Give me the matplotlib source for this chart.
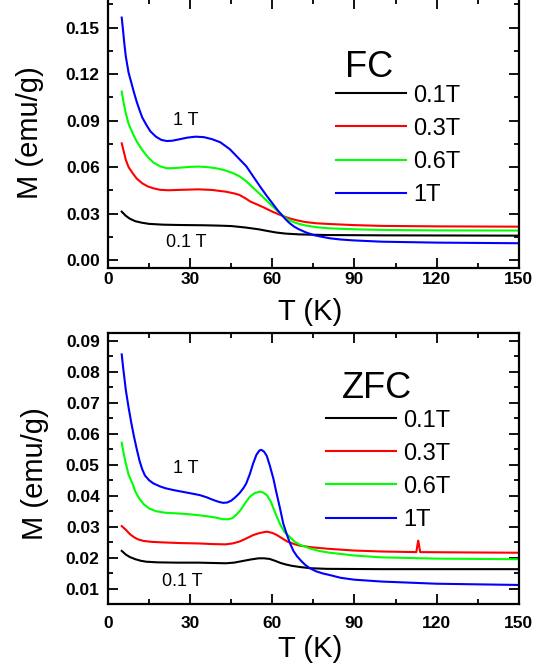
import numpy as np
import matplotlib
matplotlib.use("Agg")
import matplotlib.pyplot as plt
from matplotlib.ticker import MultipleLocator, FormatStrFormatter

plt.rcParams['font.family'] = ['Liberation Sans', 'DejaVu Sans']

fields = ['0.1T', '0.3T', '0.6T', '1T']
colors = ['black', '#ff0000', '#00ff00', '#0000ff']

# FC curves (T in K, M in emu/g)
fc_T_01 = [5, 6.5, 8, 10, 12.5, 15, 20, 25, 30, 35, 40, 45, 50, 55, 58, 61.5, 65, 70, 80, 100, 150]
fc_M_01 = [0.0312, 0.0285, 0.0266, 0.0250, 0.0240, 0.0233, 0.0228, 0.0226, 0.0225, 0.0224, 0.0222, 0.0219, 0.0210, 0.0198, 0.0188, 0.0177, 0.0170, 0.0165, 0.0161, 0.0159, 0.0157]

fc_T_03 = [5, 5.75, 6.5, 7.5, 9, 10.5, 12.5, 14.5, 16.5, 19, 22, 27, 33, 38, 43, 46, 48, 50, 52, 54.5, 57, 60, 63, 66, 69, 72, 76, 81, 90, 100, 120, 150]
fc_M_03 = [0.0753, 0.0700, 0.0646, 0.0600, 0.0560, 0.0525, 0.0495, 0.0475, 0.0463, 0.0453, 0.0450, 0.0453, 0.0456, 0.0452, 0.0441, 0.0430, 0.0420, 0.0400, 0.0377, 0.0358, 0.0338, 0.0312, 0.0290, 0.0270, 0.0256, 0.0245, 0.0237, 0.0232, 0.0225, 0.0220, 0.0217, 0.0215]

fc_T_06 = [5, 5.75, 6.5, 7.5, 9, 10.5, 12.5, 14.5, 16.5, 19, 21.5, 24, 27, 30, 33, 36, 39.5, 42.5, 45.5, 48, 50.5, 53, 55.5, 58, 60.5, 63, 65, 67, 69, 72, 76, 81, 90, 100, 120, 150]
fc_M_06 = [0.1087, 0.1010, 0.0947, 0.0880, 0.0818, 0.0765, 0.0710, 0.0665, 0.0630, 0.0605, 0.0592, 0.0593, 0.0597, 0.0601, 0.0603, 0.0600, 0.0592, 0.0580, 0.0562, 0.0540, 0.0508, 0.0466, 0.0425, 0.0382, 0.0340, 0.0298, 0.0270, 0.0250, 0.0237, 0.0223, 0.0212, 0.0204, 0.0198, 0.0194, 0.0191, 0.0190]

fc_T_1 = [5, 5.5, 6, 6.5, 7.5, 8.5, 9.5, 10.5, 11.5, 12.5, 14, 15.5, 17.5, 19.5, 21.5, 23.5, 26, 29, 32, 35, 38, 41, 44.5, 47.5, 50.5, 53, 55.5, 58, 60.5, 62, 63.5, 65, 66.5, 68, 69.5, 72, 75, 78, 81, 85, 90, 100, 120, 150]
fc_M_1 = [0.1565, 0.1480, 0.1390, 0.1313, 0.1210, 0.1145, 0.1080, 0.1020, 0.0968, 0.0920, 0.0872, 0.0830, 0.0796, 0.0775, 0.0768, 0.0770, 0.0779, 0.0790, 0.0796, 0.0793, 0.0780, 0.0760, 0.0715, 0.0660, 0.0605, 0.0540, 0.0475, 0.0413, 0.0355, 0.0320, 0.0290, 0.0260, 0.0235, 0.0215, 0.0200, 0.0180, 0.0161, 0.0150, 0.0140, 0.0132, 0.0126, 0.0118, 0.0112, 0.0108]

# ZFC curves
zfc_T_01 = [5, 6.5, 8, 10, 12, 14, 18, 25, 33, 38, 43, 46, 49, 52, 55, 57, 59, 61, 63, 65, 67, 70, 74, 80, 100, 150]
zfc_M_01 = [0.0222, 0.0210, 0.0202, 0.0195, 0.0190, 0.0187, 0.0185, 0.0184, 0.0184, 0.0183, 0.0182, 0.0184, 0.0189, 0.0194, 0.0198, 0.0198, 0.0196, 0.0190, 0.0183, 0.0178, 0.0174, 0.0170, 0.0166, 0.0164, 0.0163, 0.0163]

zfc_T_03 = [5, 6.5, 8, 9.5, 11, 13, 16, 21, 27, 33, 38, 43, 45.5, 48, 50.5, 53, 55.5, 58, 60, 61.5, 63.5, 65.5, 68, 70, 74, 80, 90, 100, 112.6, 113, 113.3, 113.6, 114, 130, 150]
zfc_M_03 = [0.0302, 0.0290, 0.0276, 0.0266, 0.0259, 0.0254, 0.0251, 0.0249, 0.0247, 0.0246, 0.0244, 0.0243, 0.0246, 0.0252, 0.0262, 0.0273, 0.0280, 0.0284, 0.0280, 0.0274, 0.0263, 0.0252, 0.0244, 0.0239, 0.0234, 0.0229, 0.0223, 0.0220, 0.0218, 0.0240, 0.0255, 0.0240, 0.0218, 0.0217, 0.0216]

zfc_T_06 = [5, 5.75, 6.5, 7.5, 8.9, 10, 11.4, 13, 15, 17.5, 21, 25, 28.5, 32, 36, 39, 42, 44, 45.5, 47, 48.5, 50, 51.8, 53.5, 55.3, 56.5, 58, 59.5, 61.5, 63, 64.5, 66.4, 68, 70, 73.7, 77, 81, 90, 100, 120, 150]
zfc_M_06 = [0.0571, 0.0535, 0.0504, 0.0468, 0.0440, 0.0413, 0.0391, 0.0373, 0.0359, 0.0350, 0.0345, 0.0343, 0.0341, 0.0338, 0.0334, 0.0330, 0.0324, 0.0324, 0.0328, 0.0340, 0.0355, 0.0375, 0.0397, 0.0408, 0.0413, 0.0411, 0.0402, 0.0380, 0.0335, 0.0305, 0.0282, 0.0267, 0.0253, 0.0242, 0.0230, 0.0222, 0.0216, 0.0207, 0.0201, 0.0197, 0.0195]

zfc_T_1 = [5, 5.5, 6, 6.5, 7.5, 8.5, 9.5, 10.5, 11.5, 12.5, 13.5, 15, 16.5, 19, 21, 24, 27, 30, 33.5, 36, 38.5, 40.5, 42, 43.5, 45, 46.5, 48, 49.5, 50.5, 51.8, 53, 54.2, 55.3, 56, 57, 58, 59, 60.4, 61.5, 62.8, 64, 65, 66.3, 67.7, 69, 70.5, 72, 73.7, 76, 78.5, 81, 85, 90, 100, 120, 150]
zfc_M_1 = [0.0856, 0.0815, 0.0778, 0.0741, 0.0685, 0.0635, 0.0590, 0.0550, 0.0513, 0.0485, 0.0465, 0.0450, 0.0440, 0.0430, 0.0424, 0.0418, 0.0413, 0.0408, 0.0402, 0.0395, 0.0386, 0.0380, 0.0377, 0.0378, 0.0384, 0.0395, 0.0408, 0.0425, 0.0440, 0.0470, 0.0504, 0.0532, 0.0546, 0.0548, 0.0542, 0.0528, 0.0500, 0.0455, 0.0410, 0.0360, 0.0310, 0.0283, 0.0250, 0.0222, 0.0205, 0.0190, 0.0177, 0.0166, 0.0156, 0.0149, 0.0144, 0.0135, 0.0129, 0.0123, 0.0116, 0.0112]

fc = [(fc_T_01, fc_M_01), (fc_T_03, fc_M_03), (fc_T_06, fc_M_06), (fc_T_1, fc_M_1)]
zfc = [(zfc_T_01, zfc_M_01), (zfc_T_03, zfc_M_03), (zfc_T_06, zfc_M_06), (zfc_T_1, zfc_M_1)]

fig = plt.figure(figsize=(5.52, 6.72), dpi=100)
ax1 = fig.add_axes([0.1957, 0.6007, 0.744, 0.4008])
ax2 = fig.add_axes([0.1957, 0.1012, 0.744, 0.4028])


def style(ax, ymajor, xpad):
    ax.set_xlim(0, 150)
    ax.xaxis.set_major_locator(MultipleLocator(30))
    ax.xaxis.set_minor_locator(MultipleLocator(15))
    ax.yaxis.set_major_locator(MultipleLocator(ymajor))
    ax.yaxis.set_minor_locator(MultipleLocator(ymajor / 2))
    ax.yaxis.set_major_formatter(FormatStrFormatter('%.2f'))
    ax.tick_params(which='both', direction='in', top=True, right=True, width=1.3)
    ax.tick_params(which='major', length=7)
    ax.tick_params(which='minor', length=3.6)
    ax.tick_params(axis='y', which='major', pad=6)
    ax.tick_params(axis='x', which='major', pad=xpad)
    for lab in ax.get_xticklabels() + ax.get_yticklabels():
        lab.set_fontweight('bold')
        lab.set_fontsize(12.5)
    for s in ax.spines.values():
        s.set_linewidth(1.6)


for (T, M), c, lab in zip(fc, colors, fields):
    ax1.plot(T, M, color=c, lw=1.5, label=lab)
for (T, M), c, lab in zip(zfc, colors, fields):
    ax2.plot(T, M, color=c, lw=1.5, label=lab)

ax1.set_ylim(-0.0054, 0.1685)
ax2.set_ylim(0.00506, 0.0924)
style(ax1, 0.03, 2.5)
style(ax2, 0.01, 9)

ax1.text(23.7, 0.0872, '1 T', fontsize=13)
ax1.text(21.2, 0.0082, '0.1 T', fontsize=13)
ax2.text(23.7, 0.0474, '1 T', fontsize=13)
ax2.text(19.6, 0.0109, '0.1 T', fontsize=13)

ax1.text(0.578, 0.712, 'FC', transform=ax1.transAxes, fontsize=26, va='baseline')
ax2.text(0.570, 0.761, 'ZFC', transform=ax2.transAxes, fontsize=26, va='baseline')

for ax, x0, y0 in [(ax1, 0.555, 0.682), (ax2, 0.531, 0.7185)]:
    ax.legend(loc='upper left', bbox_to_anchor=(x0, y0), frameon=False,
              fontsize=17, handlelength=2.97, handletextpad=0.3,
              labelspacing=0.47, borderpad=0, borderaxespad=0)

fig.text(0.0543, 1 - 132.5 / 672, 'M (emu/g)', rotation=90, ha='center', va='center', fontsize=21)
fig.text(0.0634, 1 - 474 / 672, 'M (emu/g)', rotation=90, ha='center', va='center', fontsize=21)
fig.text(310 / 552, 1 - 312 / 672, 'T (K)', ha='center', va='center', fontsize=21)
fig.text(310 / 552, 1 - 649 / 672, 'T (K)', ha='center', va='center', fontsize=21)

fig.savefig('out.png', dpi=100)
